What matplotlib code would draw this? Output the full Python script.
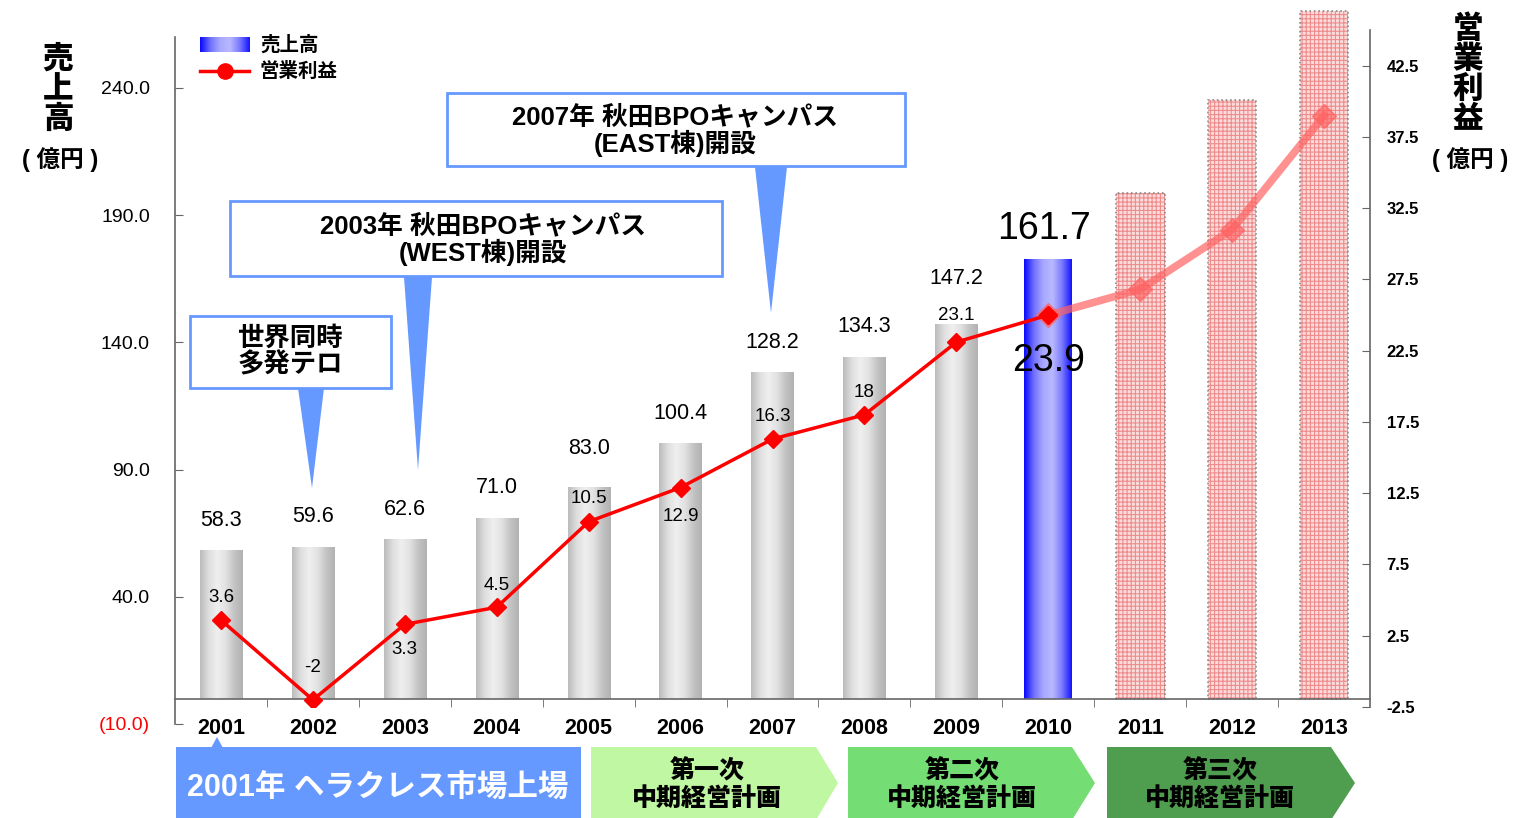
import numpy as np
import matplotlib
matplotlib.use("Agg")
import matplotlib.pyplot as plt
from matplotlib.colors import LinearSegmentedColormap
from matplotlib.patches import Rectangle, Polygon

plt.rcParams["font.family"] = ["Liberation Sans", "Noto Sans CJK JP"]
plt.rcParams["hatch.linewidth"] = 0.8

# data (億円)
years = ["2001", "2002", "2003", "2004", "2005", "2006", "2007",
         "2008", "2009", "2010", "2011", "2012", "2013"]
sales = [58.3, 59.6, 62.6, 71.0, 83.0, 100.4, 128.2, 134.3, 147.2, 172.8]
sales_labels = ["58.3", "59.6", "62.6", "71.0", "83.0", "100.4", "128.2",
                "134.3", "147.2", "161.7"]
plan_sales = [198.7, 235.4, 270.2]
profit = [3.6, -2.0, 3.3, 4.5, 10.5, 12.9, 16.3, 18.0, 23.1, 25.0]
profit_labels = ["3.6", "-2", "3.3", "4.5", "10.5", "12.9", "16.3", "18",
                 "23.1", "23.9"]
plan_profit = [26.8, 31.0, 39.0]

W, H = 1517, 818
fig = plt.figure(figsize=(W / 100, H / 100), dpi=100)

# left axis: -10 .. 260, right axis: -2.5 .. 45 (different vertical extents)
ax1 = fig.add_axes([175 / W, 1 - 724 / H, 1195 / W, 687 / H])
ax2 = fig.add_axes([175 / W, 1 - 707 / H, 1195 / W, 677 / H])
ax2.patch.set_visible(False)

gray_cmap = LinearSegmentedColormap.from_list(
    "cyl", ["#bcbcbc", "#dedede", "#efefef", "#e2e2e2", "#c4c4c4", "#b2b2b2"])
blue_cmap = LinearSegmentedColormap.from_list(
    "bcyl", ["#0a0aff", "#7070ff", "#a8a8ff", "#b8b8ff", "#7a7aff", "#1515ff"])
grad = np.linspace(0, 1, 64).reshape(1, -1)

n_act = len(sales)
for i, v in enumerate(sales):
    w = 0.46 if i < n_act - 1 else 0.52
    cm = gray_cmap if i < n_act - 1 else blue_cmap
    ax1.imshow(grad, extent=(i - w / 2, i + w / 2, 0, v), aspect="auto",
               cmap=cm, zorder=2, interpolation="bilinear")

plan_x = np.arange(n_act, n_act + len(plan_sales))
ax1.bar(plan_x, plan_sales, 0.53, color="#fbdcdc", hatch="++++",
        edgecolor="#ee8c8c", linewidth=0, zorder=2, clip_on=False)
ax1.bar(plan_x, plan_sales, 0.53, fill=False, edgecolor="#8a8a8a",
        linestyle=":", linewidth=1.2, zorder=2, clip_on=False)

# sales labels
dy_over = {4: 39, 8: 46}
for i, (v, t) in enumerate(zip(sales, sales_labels)):
    big = i == n_act - 1
    ax1.annotate(t, (i - 0.05 * big, v), xytext=(0, dy_over.get(i, 30)),
                 textcoords="offset pixels", ha="center", va="center",
                 fontsize=27 if big else 15.5, zorder=6)

ax1.spines["bottom"].set_position(("data", 0))
for s in ("top", "right"):
    ax1.spines[s].set_visible(False)
for s in ("left", "bottom"):
    ax1.spines[s].set_color("#666666")
    ax1.spines[s].set_linewidth(1.2)

ax1.set_xlim(-0.5, 12.5)
ax1.set_ylim(-10, 260)
ax1.set_yticks(np.arange(-10, 260, 50))
ax1.set_yticklabels(["(10.0)" if t < 0 else f"{t:.1f}"
                     for t in np.arange(-10, 260, 50)])
ax1.get_yticklabels()[0].set_color("red")
ax1.tick_params(axis="y", direction="in", length=6, pad=18, labelsize=14,
                color="#666666")
ax1.set_xticks(range(len(years)))
ax1.set_xticks(np.arange(0.5, 12, 1), minor=True)
ax1.tick_params(axis="x", which="major", length=0, pad=14, labelsize=15.5)
ax1.tick_params(axis="x", which="minor", length=6, direction="out",
                color="#666666")
ax1.set_xticklabels(years, fontweight="bold")

# operating profit
xs = np.arange(n_act)
ax2.plot(xs, profit, color="red", lw=2.5, marker="D", ms=9, zorder=4)
px = np.arange(n_act - 1, n_act + len(plan_profit))
ax2.plot(px, [profit[-1]] + plan_profit, color="#ff6262", lw=5.5, alpha=0.7,
         marker="D", ms=12, zorder=3)
ax2.plot(xs[-1:], profit[-1:], color="red", marker="D", ms=9, ls="", zorder=5)

pdy = [23, 32, -25, 22, 23, -29, 23, 22, 27, -46]
for i, (v, t) in enumerate(zip(profit, profit_labels)):
    big = i == n_act - 1
    ax2.annotate(t, (i, v), xytext=(0, pdy[i]), textcoords="offset pixels",
                 ha="center", va="center", fontsize=27 if big else 13.5,
                 zorder=6)

ax2.set_xlim(-0.5, 12.5)
ax2.set_ylim(-2.5, 45)
ax2.set_xticks([])
ax2.set_yticks(np.arange(-2.5, 45, 5))
ax2.set_yticklabels([f"{t:.1f}" for t in np.arange(-2.5, 45, 5)])
ax2.yaxis.tick_right()
ax2.tick_params(axis="y", direction="in", length=6, pad=12, labelsize=12,
                color="#666666")
for lab in ax2.get_yticklabels():
    lab.set_fontweight("bold")
for s in ("top", "left", "bottom"):
    ax2.spines[s].set_visible(False)
ax2.spines["right"].set_color("#666666")
ax2.spines["right"].set_linewidth(1.2)

# overlay in pixel coordinates for callouts, legend and banners
ov = fig.add_axes([0, 0, 1, 1])
ov.set_xlim(0, W)
ov.set_ylim(H, 0)
ov.axis("off")
ov.patch.set_visible(False)

CALL = "#6699ff"
callouts = [
    ((190, 316, 201, 72), [(298, 388), (324, 388), (312, 488)],
     "世界同時\n多発テロ", (290, 352), 19),
    ((230, 201, 492, 75), [(404, 277), (432, 277), (418, 470)],
     "2003年 秋田BPOキャンパス\n(WEST棟)開設", (483, 240), 18.5),
    ((447, 93, 458, 73), [(755, 167), (787, 167), (771, 313)],
     "2007年 秋田BPOキャンパス\n(EAST棟)開設", (675, 131), 18.5),
]
for (x, y, w, h), tri, txt, (tx, ty), fs in callouts:
    ov.add_patch(Polygon(tri, closed=True, color=CALL, lw=0))
    ov.add_patch(Rectangle((x, y), w, h, facecolor="white", edgecolor=CALL,
                           lw=2))
    ov.text(tx, ty, txt, ha="center", va="center", fontsize=fs,
            fontweight="bold", linespacing=1.05)

# legend
ov.imshow(grad, extent=(200, 250, 52, 37), aspect="auto", cmap=blue_cmap,
          interpolation="bilinear")
ov.text(260, 45, "売上高", ha="left", va="center", fontsize=14,
        fontweight="bold")
ov.plot([200, 249], [71, 71], color="red", lw=2.5)
ov.plot([225], [71], color="red", marker="o", ms=11)
ov.text(260, 71, "営業利益", ha="left", va="center", fontsize=14,
        fontweight="bold")

# axis titles
ov.text(58, 90, "売\n上\n高", ha="center", va="center", fontsize=22,
        fontweight="heavy", linespacing=1.0)
ov.text(60, 160, "( 億円 )", ha="center", va="center", fontsize=17,
        fontweight="bold")
ov.text(1468, 75, "営\n業\n利\n益", ha="center", va="center", fontsize=22,
        fontweight="heavy", linespacing=1.0)
ov.text(1470, 160, "( 億円 )", ha="center", va="center", fontsize=17,
        fontweight="bold")

# bottom banners
ov.add_patch(Rectangle((176, 747), 405, 75, color=CALL, lw=0))
ov.add_patch(Polygon([(211, 748), (223, 748), (217, 737)], color=CALL, lw=0))
ov.text(378, 788, "2001年 ヘラクレス市場上場", ha="center", va="center",
        fontsize=22, color="white", fontweight="bold")

arrows = [(591, 816, 838, "#bff7a2", "第一次\n中期経営計画", 707),
          (848, 1072, 1095, "#74dd74", "第二次\n中期経営計画", 962),
          (1107, 1331, 1355, "#4f9d4f", "第三次\n中期経営計画", 1220)]
for x0, x1, tip, col, txt, tx in arrows:
    ov.add_patch(Polygon([(x0, 747), (x1, 747), (tip, 783), (x1, 820),
                          (x0, 820)], closed=True, color=col, lw=0))
    ov.text(tx, 785, txt, ha="center", va="center", fontsize=18,
            fontweight="heavy", linespacing=1.15)

fig.savefig("out.png", dpi=100)
